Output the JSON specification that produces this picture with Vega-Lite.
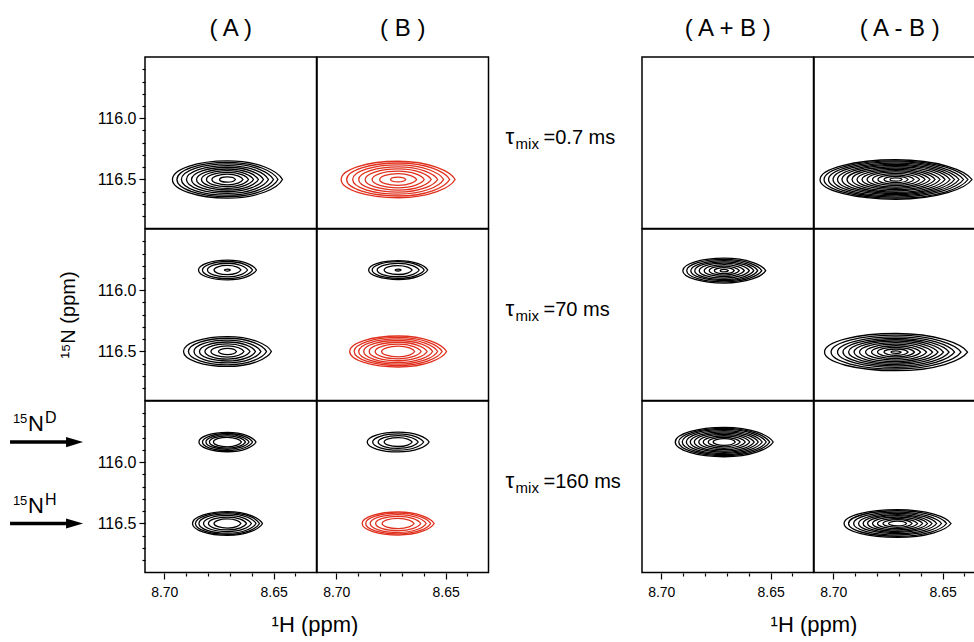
{
  "$schema": "https://vega.github.io/schema/vega-lite/v6.json",
  "autosize": {"type": "pad"},
  "padding": {"left": 7, "top": 17, "right": 0, "bottom": 0},
  "background": "white",
  "spacing": 19,
  "datasets": {
    "d": [
      {"g":"L","row":"r1","col":"( A )","type":"c","h":8.6711,"n":116.5,"w":0.0073,"sign":"pos"},
      {"g":"L","row":"r1","col":"( A )","type":"c","h":8.6711,"n":116.5,"w":0.0142,"sign":"pos"},
      {"g":"L","row":"r1","col":"( A )","type":"c","h":8.6711,"n":116.5,"w":0.0192,"sign":"pos"},
      {"g":"L","row":"r1","col":"( A )","type":"c","h":8.6711,"n":116.5,"w":0.0238,"sign":"pos"},
      {"g":"L","row":"r1","col":"( A )","type":"c","h":8.6711,"n":116.5,"w":0.0283,"sign":"pos"},
      {"g":"L","row":"r1","col":"( A )","type":"c","h":8.6711,"n":116.5,"w":0.0329,"sign":"pos"},
      {"g":"L","row":"r1","col":"( A )","type":"c","h":8.6711,"n":116.5,"w":0.0375,"sign":"pos"},
      {"g":"L","row":"r1","col":"( A )","type":"c","h":8.6711,"n":116.5,"w":0.0421,"sign":"pos"},
      {"g":"L","row":"r1","col":"( A )","type":"c","h":8.6711,"n":116.5,"w":0.0462,"sign":"pos"},
      {"g":"L","row":"r1","col":"( A )","type":"c","h":8.6711,"n":116.5,"w":0.0503,"sign":"pos"},
      {"g":"L","row":"r1","col":"( B )","type":"c","h":8.6717,"n":116.5,"w":0.0069,"sign":"neg"},
      {"g":"L","row":"r1","col":"( B )","type":"c","h":8.6717,"n":116.5,"w":0.0169,"sign":"neg"},
      {"g":"L","row":"r1","col":"( B )","type":"c","h":8.6717,"n":116.5,"w":0.0238,"sign":"neg"},
      {"g":"L","row":"r1","col":"( B )","type":"c","h":8.6717,"n":116.5,"w":0.0302,"sign":"neg"},
      {"g":"L","row":"r1","col":"( B )","type":"c","h":8.6717,"n":116.5,"w":0.0361,"sign":"neg"},
      {"g":"L","row":"r1","col":"( B )","type":"c","h":8.6717,"n":116.5,"w":0.0416,"sign":"neg"},
      {"g":"L","row":"r1","col":"( B )","type":"c","h":8.6717,"n":116.5,"w":0.0471,"sign":"neg"},
      {"g":"L","row":"r1","col":"( B )","type":"c","h":8.6717,"n":116.5,"w":0.0521,"sign":"neg"},
      {"g":"L","row":"r2","col":"( A )","type":"c","h":8.6711,"n":115.835,"w":0.0027,"sign":"pos"},
      {"g":"L","row":"r2","col":"( A )","type":"c","h":8.6711,"n":115.835,"w":0.0123,"sign":"pos"},
      {"g":"L","row":"r2","col":"( A )","type":"c","h":8.6711,"n":115.835,"w":0.0183,"sign":"pos"},
      {"g":"L","row":"r2","col":"( A )","type":"c","h":8.6711,"n":115.835,"w":0.0229,"sign":"pos"},
      {"g":"L","row":"r2","col":"( A )","type":"c","h":8.6711,"n":115.835,"w":0.0265,"sign":"pos"},
      {"g":"L","row":"r2","col":"( A )","type":"c","h":8.6711,"n":116.5,"w":0.0082,"sign":"pos"},
      {"g":"L","row":"r2","col":"( A )","type":"c","h":8.6711,"n":116.5,"w":0.0151,"sign":"pos"},
      {"g":"L","row":"r2","col":"( A )","type":"c","h":8.6711,"n":116.5,"w":0.0206,"sign":"pos"},
      {"g":"L","row":"r2","col":"( A )","type":"c","h":8.6711,"n":116.5,"w":0.0256,"sign":"pos"},
      {"g":"L","row":"r2","col":"( A )","type":"c","h":8.6711,"n":116.5,"w":0.0306,"sign":"pos"},
      {"g":"L","row":"r2","col":"( A )","type":"c","h":8.6711,"n":116.5,"w":0.0357,"sign":"pos"},
      {"g":"L","row":"r2","col":"( A )","type":"c","h":8.6711,"n":116.5,"w":0.0402,"sign":"pos"},
      {"g":"L","row":"r2","col":"( B )","type":"c","h":8.6717,"n":115.835,"w":0.0027,"sign":"pos"},
      {"g":"L","row":"r2","col":"( B )","type":"c","h":8.6717,"n":115.835,"w":0.0128,"sign":"pos"},
      {"g":"L","row":"r2","col":"( B )","type":"c","h":8.6717,"n":115.835,"w":0.0192,"sign":"pos"},
      {"g":"L","row":"r2","col":"( B )","type":"c","h":8.6717,"n":115.835,"w":0.0238,"sign":"pos"},
      {"g":"L","row":"r2","col":"( B )","type":"c","h":8.6717,"n":115.835,"w":0.0270,"sign":"pos"},
      {"g":"L","row":"r2","col":"( B )","type":"c","h":8.6717,"n":116.5,"w":0.0151,"sign":"neg"},
      {"g":"L","row":"r2","col":"( B )","type":"c","h":8.6717,"n":116.5,"w":0.0210,"sign":"neg"},
      {"g":"L","row":"r2","col":"( B )","type":"c","h":8.6717,"n":116.5,"w":0.0265,"sign":"neg"},
      {"g":"L","row":"r2","col":"( B )","type":"c","h":8.6717,"n":116.5,"w":0.0315,"sign":"neg"},
      {"g":"L","row":"r2","col":"( B )","type":"c","h":8.6717,"n":116.5,"w":0.0361,"sign":"neg"},
      {"g":"L","row":"r2","col":"( B )","type":"c","h":8.6717,"n":116.5,"w":0.0402,"sign":"neg"},
      {"g":"L","row":"r2","col":"( B )","type":"c","h":8.6717,"n":116.5,"w":0.0443,"sign":"neg"},
      {"g":"L","row":"r3","col":"( A )","type":"c","h":8.6711,"n":115.835,"w":0.0128,"sign":"pos"},
      {"g":"L","row":"r3","col":"( A )","type":"c","h":8.6711,"n":115.835,"w":0.0165,"sign":"pos"},
      {"g":"L","row":"r3","col":"( A )","type":"c","h":8.6711,"n":115.835,"w":0.0197,"sign":"pos"},
      {"g":"L","row":"r3","col":"( A )","type":"c","h":8.6711,"n":115.835,"w":0.0229,"sign":"pos"},
      {"g":"L","row":"r3","col":"( A )","type":"c","h":8.6711,"n":115.835,"w":0.0261,"sign":"pos"},
      {"g":"L","row":"r3","col":"( A )","type":"c","h":8.6711,"n":116.5,"w":0.0123,"sign":"pos"},
      {"g":"L","row":"r3","col":"( A )","type":"c","h":8.6711,"n":116.5,"w":0.0174,"sign":"pos"},
      {"g":"L","row":"r3","col":"( A )","type":"c","h":8.6711,"n":116.5,"w":0.0219,"sign":"pos"},
      {"g":"L","row":"r3","col":"( A )","type":"c","h":8.6711,"n":116.5,"w":0.0261,"sign":"pos"},
      {"g":"L","row":"r3","col":"( A )","type":"c","h":8.6711,"n":116.5,"w":0.0293,"sign":"pos"},
      {"g":"L","row":"r3","col":"( A )","type":"c","h":8.6711,"n":116.5,"w":0.0320,"sign":"pos"},
      {"g":"L","row":"r3","col":"( B )","type":"c","h":8.6717,"n":115.835,"w":0.0128,"sign":"pos"},
      {"g":"L","row":"r3","col":"( B )","type":"c","h":8.6717,"n":115.835,"w":0.0183,"sign":"pos"},
      {"g":"L","row":"r3","col":"( B )","type":"c","h":8.6717,"n":115.835,"w":0.0233,"sign":"pos"},
      {"g":"L","row":"r3","col":"( B )","type":"c","h":8.6717,"n":115.835,"w":0.0283,"sign":"pos"},
      {"g":"L","row":"r3","col":"( B )","type":"c","h":8.6717,"n":116.5,"w":0.0146,"sign":"neg"},
      {"g":"L","row":"r3","col":"( B )","type":"c","h":8.6717,"n":116.5,"w":0.0206,"sign":"neg"},
      {"g":"L","row":"r3","col":"( B )","type":"c","h":8.6717,"n":116.5,"w":0.0256,"sign":"neg"},
      {"g":"L","row":"r3","col":"( B )","type":"c","h":8.6717,"n":116.5,"w":0.0297,"sign":"neg"},
      {"g":"L","row":"r3","col":"( B )","type":"c","h":8.6717,"n":116.5,"w":0.0329,"sign":"neg"},
      {"g":"L","row":"r3","col":"( A )","type":"arrow","n":115.835,"sup":"D"},
      {"g":"L","row":"r3","col":"( A )","type":"arrow","n":116.5,"sup":"H"},
      {"g":"L","row":"r1","col":"( B )","type":"tau","t":"=0.7 ms"},
      {"g":"L","row":"r2","col":"( B )","type":"tau","t":"=70 ms"},
      {"g":"L","row":"r3","col":"( B )","type":"tau","t":"=160 ms"},
      {"g":"R","row":"r1","col":"( A + B )","type":"empty"},
      {"g":"R","row":"r1","col":"( A - B )","type":"c","h":8.6713,"n":116.5,"w":0.0055,"sign":"pos"},
      {"g":"R","row":"r1","col":"( A - B )","type":"c","h":8.6713,"n":116.5,"w":0.0110,"sign":"pos"},
      {"g":"R","row":"r1","col":"( A - B )","type":"c","h":8.6713,"n":116.5,"w":0.0165,"sign":"pos"},
      {"g":"R","row":"r1","col":"( A - B )","type":"c","h":8.6713,"n":116.5,"w":0.0215,"sign":"pos"},
      {"g":"R","row":"r1","col":"( A - B )","type":"c","h":8.6713,"n":116.5,"w":0.0265,"sign":"pos"},
      {"g":"R","row":"r1","col":"( A - B )","type":"c","h":8.6713,"n":116.5,"w":0.0311,"sign":"pos"},
      {"g":"R","row":"r1","col":"( A - B )","type":"c","h":8.6713,"n":116.5,"w":0.0357,"sign":"pos"},
      {"g":"R","row":"r1","col":"( A - B )","type":"c","h":8.6713,"n":116.5,"w":0.0402,"sign":"pos"},
      {"g":"R","row":"r1","col":"( A - B )","type":"c","h":8.6713,"n":116.5,"w":0.0448,"sign":"pos"},
      {"g":"R","row":"r1","col":"( A - B )","type":"c","h":8.6713,"n":116.5,"w":0.0494,"sign":"pos"},
      {"g":"R","row":"r1","col":"( A - B )","type":"c","h":8.6713,"n":116.5,"w":0.0535,"sign":"pos"},
      {"g":"R","row":"r1","col":"( A - B )","type":"c","h":8.6713,"n":116.5,"w":0.0576,"sign":"pos"},
      {"g":"R","row":"r1","col":"( A - B )","type":"c","h":8.6713,"n":116.5,"w":0.0617,"sign":"pos"},
      {"g":"R","row":"r1","col":"( A - B )","type":"c","h":8.6713,"n":116.5,"w":0.0658,"sign":"pos"},
      {"g":"R","row":"r1","col":"( A - B )","type":"c","h":8.6713,"n":116.5,"w":0.0695,"sign":"pos"},
      {"g":"R","row":"r2","col":"( A + B )","type":"c","h":8.6712,"n":115.84,"w":0.0037,"sign":"pos"},
      {"g":"R","row":"r2","col":"( A + B )","type":"c","h":8.6712,"n":115.84,"w":0.0091,"sign":"pos"},
      {"g":"R","row":"r2","col":"( A + B )","type":"c","h":8.6712,"n":115.84,"w":0.0137,"sign":"pos"},
      {"g":"R","row":"r2","col":"( A + B )","type":"c","h":8.6712,"n":115.84,"w":0.0183,"sign":"pos"},
      {"g":"R","row":"r2","col":"( A + B )","type":"c","h":8.6712,"n":115.84,"w":0.0229,"sign":"pos"},
      {"g":"R","row":"r2","col":"( A + B )","type":"c","h":8.6712,"n":115.84,"w":0.0270,"sign":"pos"},
      {"g":"R","row":"r2","col":"( A + B )","type":"c","h":8.6712,"n":115.84,"w":0.0306,"sign":"pos"},
      {"g":"R","row":"r2","col":"( A + B )","type":"c","h":8.6712,"n":115.84,"w":0.0343,"sign":"pos"},
      {"g":"R","row":"r2","col":"( A + B )","type":"c","h":8.6712,"n":115.84,"w":0.0379,"sign":"pos"},
      {"g":"R","row":"r2","col":"( A - B )","type":"c","h":8.6713,"n":116.505,"w":0.0046,"sign":"pos"},
      {"g":"R","row":"r2","col":"( A - B )","type":"c","h":8.6713,"n":116.505,"w":0.0110,"sign":"pos"},
      {"g":"R","row":"r2","col":"( A - B )","type":"c","h":8.6713,"n":116.505,"w":0.0169,"sign":"pos"},
      {"g":"R","row":"r2","col":"( A - B )","type":"c","h":8.6713,"n":116.505,"w":0.0224,"sign":"pos"},
      {"g":"R","row":"r2","col":"( A - B )","type":"c","h":8.6713,"n":116.505,"w":0.0279,"sign":"pos"},
      {"g":"R","row":"r2","col":"( A - B )","type":"c","h":8.6713,"n":116.505,"w":0.0334,"sign":"pos"},
      {"g":"R","row":"r2","col":"( A - B )","type":"c","h":8.6713,"n":116.505,"w":0.0384,"sign":"pos"},
      {"g":"R","row":"r2","col":"( A - B )","type":"c","h":8.6713,"n":116.505,"w":0.0434,"sign":"pos"},
      {"g":"R","row":"r2","col":"( A - B )","type":"c","h":8.6713,"n":116.505,"w":0.0485,"sign":"pos"},
      {"g":"R","row":"r2","col":"( A - B )","type":"c","h":8.6713,"n":116.505,"w":0.0535,"sign":"pos"},
      {"g":"R","row":"r2","col":"( A - B )","type":"c","h":8.6713,"n":116.505,"w":0.0594,"sign":"pos"},
      {"g":"R","row":"r2","col":"( A - B )","type":"c","h":8.6713,"n":116.505,"w":0.0654,"sign":"pos"},
      {"g":"R","row":"r3","col":"( A + B )","type":"c","h":8.6712,"n":115.835,"w":0.0101,"sign":"pos"},
      {"g":"R","row":"r3","col":"( A + B )","type":"c","h":8.6712,"n":115.835,"w":0.0146,"sign":"pos"},
      {"g":"R","row":"r3","col":"( A + B )","type":"c","h":8.6712,"n":115.835,"w":0.0192,"sign":"pos"},
      {"g":"R","row":"r3","col":"( A + B )","type":"c","h":8.6712,"n":115.835,"w":0.0233,"sign":"pos"},
      {"g":"R","row":"r3","col":"( A + B )","type":"c","h":8.6712,"n":115.835,"w":0.0274,"sign":"pos"},
      {"g":"R","row":"r3","col":"( A + B )","type":"c","h":8.6712,"n":115.835,"w":0.0311,"sign":"pos"},
      {"g":"R","row":"r3","col":"( A + B )","type":"c","h":8.6712,"n":115.835,"w":0.0347,"sign":"pos"},
      {"g":"R","row":"r3","col":"( A + B )","type":"c","h":8.6712,"n":115.835,"w":0.0384,"sign":"pos"},
      {"g":"R","row":"r3","col":"( A + B )","type":"c","h":8.6712,"n":115.835,"w":0.0416,"sign":"pos"},
      {"g":"R","row":"r3","col":"( A + B )","type":"c","h":8.6712,"n":115.835,"w":0.0448,"sign":"pos"},
      {"g":"R","row":"r3","col":"( A - B )","type":"c","h":8.6706,"n":116.5,"w":0.0082,"sign":"pos"},
      {"g":"R","row":"r3","col":"( A - B )","type":"c","h":8.6706,"n":116.5,"w":0.0133,"sign":"pos"},
      {"g":"R","row":"r3","col":"( A - B )","type":"c","h":8.6706,"n":116.5,"w":0.0183,"sign":"pos"},
      {"g":"R","row":"r3","col":"( A - B )","type":"c","h":8.6706,"n":116.5,"w":0.0229,"sign":"pos"},
      {"g":"R","row":"r3","col":"( A - B )","type":"c","h":8.6706,"n":116.5,"w":0.0274,"sign":"pos"},
      {"g":"R","row":"r3","col":"( A - B )","type":"c","h":8.6706,"n":116.5,"w":0.0315,"sign":"pos"},
      {"g":"R","row":"r3","col":"( A - B )","type":"c","h":8.6706,"n":116.5,"w":0.0357,"sign":"pos"},
      {"g":"R","row":"r3","col":"( A - B )","type":"c","h":8.6706,"n":116.5,"w":0.0402,"sign":"pos"},
      {"g":"R","row":"r3","col":"( A - B )","type":"c","h":8.6706,"n":116.5,"w":0.0448,"sign":"pos"},
      {"g":"R","row":"r3","col":"( A - B )","type":"c","h":8.6706,"n":116.5,"w":0.0489,"sign":"pos"}
    ]
  },
  "hconcat": [
    {
      "data": {"name": "d"},
      "transform": [{"filter": "datum.g === 'L'"}],
      "facet": {
        "row": {"field": "row", "type": "nominal", "sort": ["r1", "r2", "r3"], "title": "¹⁵N (ppm)",
          "header": {"labels": false, "titleOrient": "left", "titleFontSize": 20, "titlePadding": 8}},
        "column": {"field": "col", "type": "nominal", "sort": ["( A )", "( B )"], "title": "¹H (ppm)",
          "header": {"labelOrient": "top", "labelFontSize": 24, "labelPadding": 16, "titleOrient": "bottom", "titleFontSize": 22, "titlePadding": 6}}
      },
      "spacing": 0,
      "bounds": "flush",
      "spec": {
        "width": 171.5,
        "height": 171.5,
        "layer": [
          {
            "transform": [{"filter": "datum.type === 'c'"}],
            "mark": {"type": "point", "filled": false, "strokeWidth": 1.3, "opacity": 1},
            "encoding": {
              "x": {"field": "h", "type": "quantitative",
                "scale": {"domain": [8.6304, 8.7088], "reverse": true, "zero": false, "nice": false},
                "axis": {"title": null, "values": [8.64, 8.65, 8.66, 8.67, 8.68, 8.69, 8.70], "labelExpr": "abs(datum.value*20-round(datum.value*20))<0.001 ? format(datum.value,'.2f') : ''", "tickSize": {"condition": {"test": "abs(datum.value*20-round(datum.value*20))<0.001", "value": 6}, "value": 3}, "labelFontSize": 14, "labelPadding": 6, "labelFlush": false, "labelOverlap": false}},
              "y": {"field": "n", "type": "quantitative",
                "scale": {"domain": [115.5, 116.9], "reverse": true, "zero": false, "nice": false},
                "axis": {"title": null, "values": [115.6, 115.7, 115.8, 115.9, 116.0, 116.1, 116.2, 116.3, 116.4, 116.5, 116.6, 116.7, 116.8], "labelExpr": "abs(datum.value*2-round(datum.value*2))<0.001 ? format(datum.value,'.1f') : ''", "tickSize": {"condition": {"test": "abs(datum.value*2-round(datum.value*2))<0.001", "value": 6}, "value": 3}, "labelFontSize": 16, "labelPadding": 3, "labelFlush": false, "labelOverlap": false}},
              "size": {"field": "w", "type": "quantitative", "scale": {"type": "pow", "exponent": 2, "domain": [0, 0.07], "range": [0, 23443]}, "legend": null},
              "color": {"field": "sign", "type": "nominal", "scale": {"domain": ["pos", "neg"], "range": ["#000000", "#e0301e"]}, "legend": null},
              "shape": {"field": "col", "type": "nominal", "legend": null,
                "scale": {"domain": ["( A )", "( B )", "( A + B )", "( A - B )"],
                  "range": [
                    "M1,0C0.92,-0.153 0.56,-0.34 0,-0.34C-0.55,-0.34 -1,-0.187 -1,0C-1,0.187 -0.55,0.34 0,0.34C0.56,0.34 0.92,0.153 1,0Z",
                    "M1,0C0.92,-0.144 0.56,-0.32 0,-0.32C-0.55,-0.32 -1,-0.176 -1,0C-1,0.176 -0.55,0.32 0,0.32C0.56,0.32 0.92,0.144 1,0Z",
                    "M1,0C0.92,-0.135 0.56,-0.3 0,-0.3C-0.55,-0.3 -1,-0.165 -1,0C-1,0.165 -0.55,0.3 0,0.3C0.56,0.3 0.92,0.135 1,0Z",
                    "M1,0C0.92,-0.117 0.56,-0.26 0,-0.26C-0.55,-0.26 -1,-0.143 -1,0C-1,0.143 -0.55,0.26 0,0.26C0.56,0.26 0.92,0.117 1,0Z"
                  ]}}
            }
          },
          {
            "transform": [{"filter": "datum.type === 'arrow'"}],
            "mark": {"type": "rule", "strokeWidth": 3.5, "color": "black"},
            "encoding": {
              "x": {"datum": 8.7705, "type": "quantitative",
                "axis": {"title": null, "values": [8.64, 8.65, 8.66, 8.67, 8.68, 8.69, 8.70], "labelExpr": "abs(datum.value*20-round(datum.value*20))<0.001 ? format(datum.value,'.2f') : ''", "tickSize": {"condition": {"test": "abs(datum.value*20-round(datum.value*20))<0.001", "value": 6}, "value": 3}, "labelFontSize": 14, "labelPadding": 6, "labelFlush": false, "labelOverlap": false}},
              "x2": {"datum": 8.7431},
              "y": {"field": "n", "type": "quantitative",
                "axis": {"title": null, "values": [115.6, 115.7, 115.8, 115.9, 116.0, 116.1, 116.2, 116.3, 116.4, 116.5, 116.6, 116.7, 116.8], "labelExpr": "abs(datum.value*2-round(datum.value*2))<0.001 ? format(datum.value,'.1f') : ''", "tickSize": {"condition": {"test": "abs(datum.value*2-round(datum.value*2))<0.001", "value": 6}, "value": 3}, "labelFontSize": 16, "labelPadding": 3, "labelFlush": false, "labelOverlap": false}}
            }
          },
          {
            "transform": [{"filter": "datum.type === 'arrow'"}],
            "mark": {"type": "point", "filled": true, "opacity": 1, "color": "black", "size": 289, "shape": "M-1,-0.6L1,0L-1,0.6Z"},
            "encoding": {
              "x": {"datum": 8.741, "type": "quantitative",
                "axis": {"title": null, "values": [8.64, 8.65, 8.66, 8.67, 8.68, 8.69, 8.70], "labelExpr": "abs(datum.value*20-round(datum.value*20))<0.001 ? format(datum.value,'.2f') : ''", "tickSize": {"condition": {"test": "abs(datum.value*20-round(datum.value*20))<0.001", "value": 6}, "value": 3}, "labelFontSize": 14, "labelPadding": 6, "labelFlush": false, "labelOverlap": false}},
              "y": {"field": "n", "type": "quantitative",
                "axis": {"title": null, "values": [115.6, 115.7, 115.8, 115.9, 116.0, 116.1, 116.2, 116.3, 116.4, 116.5, 116.6, 116.7, 116.8], "labelExpr": "abs(datum.value*2-round(datum.value*2))<0.001 ? format(datum.value,'.1f') : ''", "tickSize": {"condition": {"test": "abs(datum.value*2-round(datum.value*2))<0.001", "value": 6}, "value": 3}, "labelFontSize": 16, "labelPadding": 3, "labelFlush": false, "labelOverlap": false}}
            }
          },
          {
            "transform": [{"filter": "datum.type === 'arrow'"}],
            "mark": {"type": "text", "align": "left", "baseline": "alphabetic", "fontSize": 13, "dy": -19, "color": "black"},
            "encoding": {
              "x": {"datum": 8.7692, "type": "quantitative",
                "axis": {"title": null, "values": [8.64, 8.65, 8.66, 8.67, 8.68, 8.69, 8.70], "labelExpr": "abs(datum.value*20-round(datum.value*20))<0.001 ? format(datum.value,'.2f') : ''", "tickSize": {"condition": {"test": "abs(datum.value*20-round(datum.value*20))<0.001", "value": 6}, "value": 3}, "labelFontSize": 14, "labelPadding": 6, "labelFlush": false, "labelOverlap": false}},
              "y": {"field": "n", "type": "quantitative",
                "axis": {"title": null, "values": [115.6, 115.7, 115.8, 115.9, 116.0, 116.1, 116.2, 116.3, 116.4, 116.5, 116.6, 116.7, 116.8], "labelExpr": "abs(datum.value*2-round(datum.value*2))<0.001 ? format(datum.value,'.1f') : ''", "tickSize": {"condition": {"test": "abs(datum.value*2-round(datum.value*2))<0.001", "value": 6}, "value": 3}, "labelFontSize": 16, "labelPadding": 3, "labelFlush": false, "labelOverlap": false}},
              "text": {"value": "15"}
            }
          },
          {
            "transform": [{"filter": "datum.type === 'arrow'"}],
            "mark": {"type": "text", "align": "left", "baseline": "alphabetic", "fontSize": 22, "dy": -11, "color": "black"},
            "encoding": {
              "x": {"datum": 8.7623, "type": "quantitative",
                "axis": {"title": null, "values": [8.64, 8.65, 8.66, 8.67, 8.68, 8.69, 8.70], "labelExpr": "abs(datum.value*20-round(datum.value*20))<0.001 ? format(datum.value,'.2f') : ''", "tickSize": {"condition": {"test": "abs(datum.value*20-round(datum.value*20))<0.001", "value": 6}, "value": 3}, "labelFontSize": 14, "labelPadding": 6, "labelFlush": false, "labelOverlap": false}},
              "y": {"field": "n", "type": "quantitative",
                "axis": {"title": null, "values": [115.6, 115.7, 115.8, 115.9, 116.0, 116.1, 116.2, 116.3, 116.4, 116.5, 116.6, 116.7, 116.8], "labelExpr": "abs(datum.value*2-round(datum.value*2))<0.001 ? format(datum.value,'.1f') : ''", "tickSize": {"condition": {"test": "abs(datum.value*2-round(datum.value*2))<0.001", "value": 6}, "value": 3}, "labelFontSize": 16, "labelPadding": 3, "labelFlush": false, "labelOverlap": false}},
              "text": {"value": "N"}
            }
          },
          {
            "transform": [{"filter": "datum.type === 'arrow'"}],
            "mark": {"type": "text", "align": "left", "baseline": "alphabetic", "fontSize": 16, "dy": -19, "color": "black"},
            "encoding": {
              "x": {"datum": 8.7545, "type": "quantitative",
                "axis": {"title": null, "values": [8.64, 8.65, 8.66, 8.67, 8.68, 8.69, 8.70], "labelExpr": "abs(datum.value*20-round(datum.value*20))<0.001 ? format(datum.value,'.2f') : ''", "tickSize": {"condition": {"test": "abs(datum.value*20-round(datum.value*20))<0.001", "value": 6}, "value": 3}, "labelFontSize": 14, "labelPadding": 6, "labelFlush": false, "labelOverlap": false}},
              "y": {"field": "n", "type": "quantitative",
                "axis": {"title": null, "values": [115.6, 115.7, 115.8, 115.9, 116.0, 116.1, 116.2, 116.3, 116.4, 116.5, 116.6, 116.7, 116.8], "labelExpr": "abs(datum.value*2-round(datum.value*2))<0.001 ? format(datum.value,'.1f') : ''", "tickSize": {"condition": {"test": "abs(datum.value*2-round(datum.value*2))<0.001", "value": 6}, "value": 3}, "labelFontSize": 16, "labelPadding": 3, "labelFlush": false, "labelOverlap": false}},
              "text": {"field": "sup"}
            }
          },
          {
            "transform": [{"filter": "datum.type === 'tau'"}],
            "mark": {"type": "text", "align": "left", "baseline": "alphabetic", "fontSize": 22, "color": "black"},
            "encoding": {
              "x": {"datum": 8.6226, "type": "quantitative",
                "axis": {"title": null, "values": [8.64, 8.65, 8.66, 8.67, 8.68, 8.69, 8.70], "labelExpr": "abs(datum.value*20-round(datum.value*20))<0.001 ? format(datum.value,'.2f') : ''", "tickSize": {"condition": {"test": "abs(datum.value*20-round(datum.value*20))<0.001", "value": 6}, "value": 3}, "labelFontSize": 14, "labelPadding": 6, "labelFlush": false, "labelOverlap": false}},
              "y": {"datum": 116.21, "type": "quantitative",
                "axis": {"title": null, "values": [115.6, 115.7, 115.8, 115.9, 116.0, 116.1, 116.2, 116.3, 116.4, 116.5, 116.6, 116.7, 116.8], "labelExpr": "abs(datum.value*2-round(datum.value*2))<0.001 ? format(datum.value,'.1f') : ''", "tickSize": {"condition": {"test": "abs(datum.value*2-round(datum.value*2))<0.001", "value": 6}, "value": 3}, "labelFontSize": 16, "labelPadding": 3, "labelFlush": false, "labelOverlap": false}},
              "text": {"value": "τ"}
            }
          },
          {
            "transform": [{"filter": "datum.type === 'tau'"}],
            "mark": {"type": "text", "align": "left", "baseline": "alphabetic", "fontSize": 15, "dx": 10, "dy": 5, "color": "black"},
            "encoding": {
              "x": {"datum": 8.6226, "type": "quantitative",
                "axis": {"title": null, "values": [8.64, 8.65, 8.66, 8.67, 8.68, 8.69, 8.70], "labelExpr": "abs(datum.value*20-round(datum.value*20))<0.001 ? format(datum.value,'.2f') : ''", "tickSize": {"condition": {"test": "abs(datum.value*20-round(datum.value*20))<0.001", "value": 6}, "value": 3}, "labelFontSize": 14, "labelPadding": 6, "labelFlush": false, "labelOverlap": false}},
              "y": {"datum": 116.21, "type": "quantitative",
                "axis": {"title": null, "values": [115.6, 115.7, 115.8, 115.9, 116.0, 116.1, 116.2, 116.3, 116.4, 116.5, 116.6, 116.7, 116.8], "labelExpr": "abs(datum.value*2-round(datum.value*2))<0.001 ? format(datum.value,'.1f') : ''", "tickSize": {"condition": {"test": "abs(datum.value*2-round(datum.value*2))<0.001", "value": 6}, "value": 3}, "labelFontSize": 16, "labelPadding": 3, "labelFlush": false, "labelOverlap": false}},
              "text": {"value": "mix"}
            }
          },
          {
            "transform": [{"filter": "datum.type === 'tau'"}],
            "mark": {"type": "text", "align": "left", "baseline": "alphabetic", "fontSize": 20, "dx": 38, "color": "black"},
            "encoding": {
              "x": {"datum": 8.6226, "type": "quantitative",
                "axis": {"title": null, "values": [8.64, 8.65, 8.66, 8.67, 8.68, 8.69, 8.70], "labelExpr": "abs(datum.value*20-round(datum.value*20))<0.001 ? format(datum.value,'.2f') : ''", "tickSize": {"condition": {"test": "abs(datum.value*20-round(datum.value*20))<0.001", "value": 6}, "value": 3}, "labelFontSize": 14, "labelPadding": 6, "labelFlush": false, "labelOverlap": false}},
              "y": {"datum": 116.21, "type": "quantitative",
                "axis": {"title": null, "values": [115.6, 115.7, 115.8, 115.9, 116.0, 116.1, 116.2, 116.3, 116.4, 116.5, 116.6, 116.7, 116.8], "labelExpr": "abs(datum.value*2-round(datum.value*2))<0.001 ? format(datum.value,'.1f') : ''", "tickSize": {"condition": {"test": "abs(datum.value*2-round(datum.value*2))<0.001", "value": 6}, "value": 3}, "labelFontSize": 16, "labelPadding": 3, "labelFlush": false, "labelOverlap": false}},
              "text": {"field": "t"}
            }
          }
        ]
      }
    },
    {
      "data": {"name": "d"},
      "transform": [{"filter": "datum.g === 'R'"}],
      "facet": {
        "row": {"field": "row", "type": "nominal", "sort": ["r1", "r2", "r3"], "title": null,
          "header": {"labels": false}},
        "column": {"field": "col", "type": "nominal", "sort": ["( A + B )", "( A - B )"], "title": "¹H (ppm)",
          "header": {"labelOrient": "top", "labelFontSize": 24, "labelPadding": 16, "titleOrient": "bottom", "titleFontSize": 22, "titlePadding": 6}}
      },
      "spacing": 0,
      "bounds": "flush",
      "spec": {
        "width": 171.5,
        "height": 171.5,
        "layer": [
          {
            "transform": [{"filter": "datum.type === 'c'"}],
            "mark": {"type": "point", "filled": false, "strokeWidth": 1.3, "opacity": 1},
            "encoding": {
              "x": {"field": "h", "type": "quantitative",
                "scale": {"domain": [8.6304, 8.7088], "reverse": true, "zero": false, "nice": false},
                "axis": {"title": null, "values": [8.64, 8.65, 8.66, 8.67, 8.68, 8.69, 8.70], "labelExpr": "abs(datum.value*20-round(datum.value*20))<0.001 ? format(datum.value,'.2f') : ''", "tickSize": {"condition": {"test": "abs(datum.value*20-round(datum.value*20))<0.001", "value": 6}, "value": 3}, "labelFontSize": 14, "labelPadding": 6, "labelFlush": false, "labelOverlap": false}},
              "y": {"field": "n", "type": "quantitative",
                "scale": {"domain": [115.5, 116.9], "reverse": true, "zero": false, "nice": false},
                "axis": null},
              "size": {"field": "w", "type": "quantitative", "scale": {"type": "pow", "exponent": 2, "domain": [0, 0.07], "range": [0, 23443]}, "legend": null},
              "color": {"field": "sign", "type": "nominal", "scale": {"domain": ["pos", "neg"], "range": ["#000000", "#e0301e"]}, "legend": null},
              "shape": {"field": "col", "type": "nominal", "legend": null,
                "scale": {"domain": ["( A )", "( B )", "( A + B )", "( A - B )"],
                  "range": [
                    "M1,0C0.92,-0.153 0.56,-0.34 0,-0.34C-0.55,-0.34 -1,-0.187 -1,0C-1,0.187 -0.55,0.34 0,0.34C0.56,0.34 0.92,0.153 1,0Z",
                    "M1,0C0.92,-0.144 0.56,-0.32 0,-0.32C-0.55,-0.32 -1,-0.176 -1,0C-1,0.176 -0.55,0.32 0,0.32C0.56,0.32 0.92,0.144 1,0Z",
                    "M1,0C0.92,-0.135 0.56,-0.3 0,-0.3C-0.55,-0.3 -1,-0.165 -1,0C-1,0.165 -0.55,0.3 0,0.3C0.56,0.3 0.92,0.135 1,0Z",
                    "M1,0C0.92,-0.117 0.56,-0.26 0,-0.26C-0.55,-0.26 -1,-0.143 -1,0C-1,0.143 -0.55,0.26 0,0.26C0.56,0.26 0.92,0.117 1,0Z"
                  ]}}
            }
          }
        ]
      }
    }
  ],
  "config": {
    "font": "Liberation Sans",
    "view": {"stroke": "black", "strokeWidth": 1.5},
    "axis": {"tickColor": "black", "labelColor": "black", "tickWidth": 1.2, "domain": false, "grid": false, "labelOverlap": false},
    "header": {"labelColor": "black", "titleColor": "black", "titleFontWeight": "normal", "labelFont": "Liberation Sans", "titleFont": "Liberation Sans"}
  }
}
